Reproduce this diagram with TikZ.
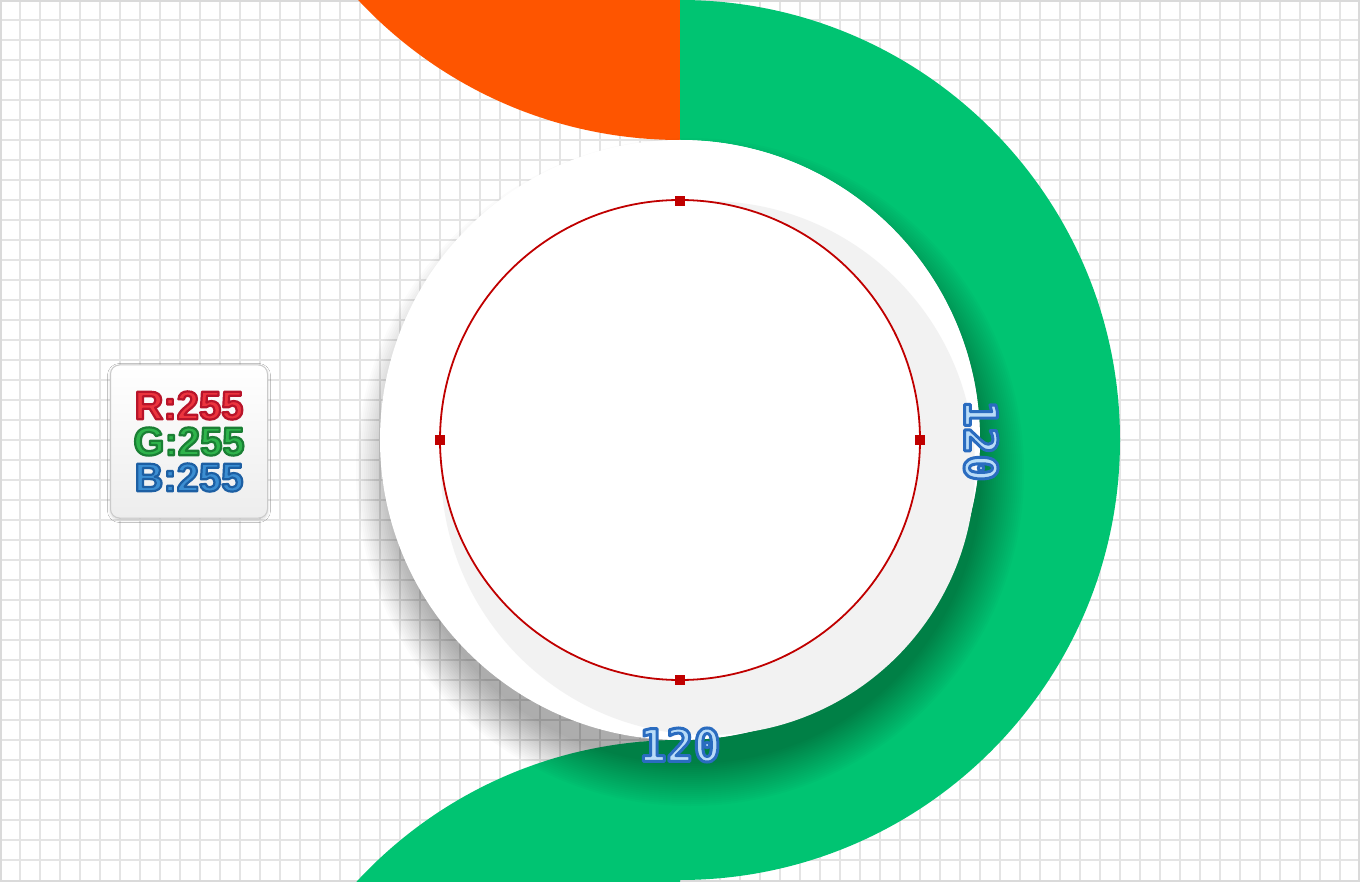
\documentclass[tikz,border=0pt]{standalone}
\usepackage{fontspec}
\usetikzlibrary{shadows,shadows.blur}
\newfontfamily\numf{DejaVu Sans Mono}
\newfontfamily\rgbf{Liberation Sans}
\definecolor{grn}{HTML}{00C472}
\definecolor{org}{HTML}{FE5500}
\definecolor{gridc}{HTML}{E4E4E4}
\definecolor{framec}{HTML}{DADADA}
\definecolor{redc}{HTML}{C00000}
\definecolor{ringgray}{HTML}{F2F2F2}
\definecolor{lblue}{HTML}{B9DCF8}
\definecolor{rfill}{HTML}{EC343E}
\definecolor{gfill}{HTML}{2FB44C}
\definecolor{bfill}{HTML}{3C8ED2}
\definecolor{boxline}{HTML}{CACACA}
% outlined text: #1 stroke width, #2 stroke rgb, #3 fill colour, #4 text
\newcommand\olt[4]{{\color{#3}\special{pdf:literal direct 2 Tr #1 w 1 j #2 RG}#4\special{pdf:literal direct 0 Tr}}}
\tikzset{
  gridline/.style={gridc, line width=1.5pt},
  marker/.style={fill=redc, minimum size=10pt, inner sep=0pt, draw=none},
  dimlabel/.style={inner sep=0pt, font=\numf\bfseries\fontsize{45pt}{45pt}\selectfont},
  infobox/.style={draw=boxline, line width=1pt, rounded corners=9pt, minimum width=157pt, minimum height=153pt,
    top color=white, bottom color=black!7, inner sep=0pt, align=center,
    font=\rgbf\bfseries\fontsize{40pt}{36pt}\selectfont,
    blur shadow={shadow xshift=0pt, shadow yshift=-1.5pt, shadow blur radius=3pt, shadow opacity=18}}
}
\begin{document}
\begin{tikzpicture}[x=1pt, y=-1pt]
\useasboundingbox (0,0) rectangle (1360,882);
\fill[white] (0,0) rectangle (1360,882);
% grid
\foreach \gx in {20,40,...,1340} \draw[gridline] (\gx,0) -- (\gx,882);
\foreach \gy in {20,40,...,860} \draw[gridline] (0,\gy) -- (1360,\gy);
\draw[framec, line width=2.5pt] (1,1) rectangle (1359,881);
% orange top-left and green bottom-left
\begin{scope}
  \clip (0,0) rectangle (680,882);
  \fill[org] (680,-300) circle (440);
  \fill[grn] (680,1180) circle (440);
\end{scope}
% green right half ring
\begin{scope}
  \clip (680,0) rectangle (1360,882);
  \fill[grn, even odd rule] (680,440) circle (440) (680,440) circle (300);
\end{scope}
% shadow of white disc
\begin{scope}
  \clip (0,0) rectangle (1360,882);
  \foreach \k in {1,...,22} \fill[black, opacity=0.017] (690,472) circle ({336-2*\k});
\end{scope}
% white disc
\fill[white] (680,440) circle (300);
% gray offset disc
\fill[ringgray] (708,468) circle (267);
% inner white disc with red outline
\draw[redc, line width=1.8pt, fill=white] (680,440) circle (240);
\node (mT) [marker] at (680,201) {};
\node (mB) [marker] at (680,680) {};
\node (mL) [marker] at (440,440) {};
\node (mR) [marker] at (920,440) {};
% dimension labels
\node (dimR) [dimlabel, rotate=-90] at (981,441) {\olt{3}{0.165 0.424 0.753}{lblue}{120}};
\node (dimB) [dimlabel] at (680,745) {\olt{3}{0.165 0.424 0.753}{lblue}{120}};
% RGB info box
\node (info) [infobox] at (189,441.5) {\olt{2.2}{0.722 0.078 0.165}{rfill}{R:255}\\\olt{2.2}{0.102 0.498 0.204}{gfill}{G:255}\\\olt{2.2}{0.114 0.373 0.639}{bfill}{B:255}};
\end{tikzpicture}
\end{document}
